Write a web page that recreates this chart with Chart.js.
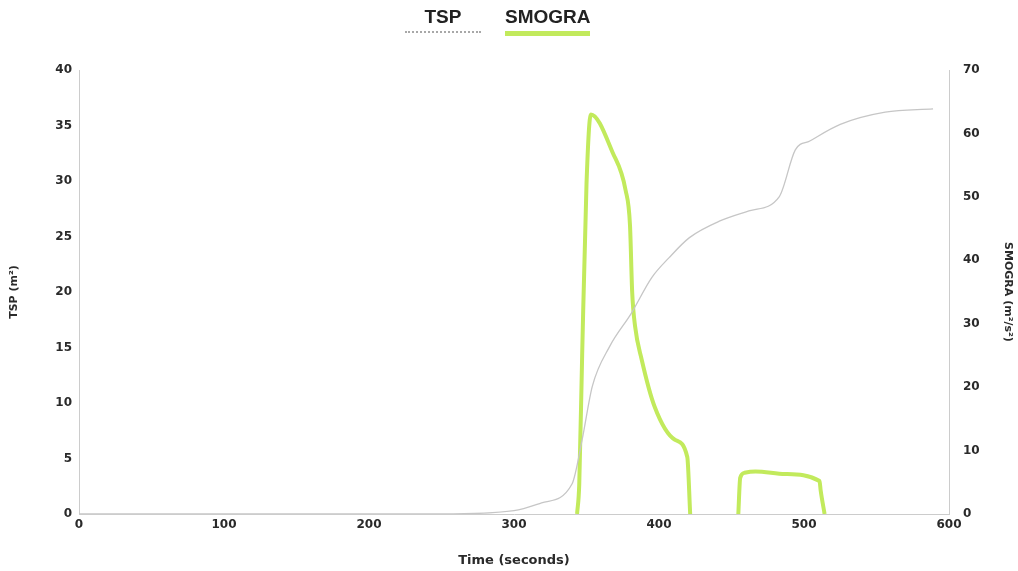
<!DOCTYPE html>
<html>
<head>
<meta charset="utf-8">
<title>TSP / SMOGRA</title>
<script src="https://cdn.jsdelivr.net/npm/chart.js@4.4.1/dist/chart.umd.min.js"></script>
<style>
    body { margin: 0; background: #fff; }
    #wrap { position: relative; width: 1018px; height: 571px; }
    #legend { position: absolute; top: 0; left: 0; width: 1018px; height: 50px; }
    .legend-item {
        position: absolute;
        top: 6px;
        text-align: center;
        font-family: "Liberation Sans Narrow", "Arial Narrow", sans-serif;
        font-stretch: condensed;
        font-weight: bold;
        font-size: 19px;
        color: #222;
    }
    .legend-line { margin: 3px auto 0 auto; }
</style>
</head>
<body>
<div id="wrap">
    <div id="legend">
        <div class="legend-item" style="left:405px; width:76px;">
            TSP
            <div class="legend-line" style="width:76px; border-top:2px dotted #a8a8a8;"></div>
        </div>
        <div class="legend-item" style="left:505px; width:85px;">
            SMOGRA
            <div class="legend-line" style="width:85px; border-top:5px solid #c2ea5c;"></div>
        </div>
    </div>
    <canvas id="myChart"></canvas>
</div>
<script>
// time in seconds
const tspTime = [0, 50, 100, 150, 200, 250, 300, 319, 340, 347, 354, 366, 381, 395, 407, 421, 442, 462, 483, 494, 504, 525, 556, 589];
const tspValues = [0, 0, 0, 0, 0, 0, 0.3, 1.0, 2.7, 6.7, 11.5, 15.1, 18.1, 21.3, 23.1, 24.9, 26.4, 27.3, 28.6, 32.8, 33.6, 35.1, 36.2, 36.5];

const smograTime = [343.5, 345, 347, 350, 353, 368, 377, 380, 381.5, 383.5, 388, 397, 411, 419.5, 421.5, 438, 454.7, 456, 459, 466.5, 487, 510.7, 511.5, 514.2];
const smograValues = [0, 4.7, 25, 52, 63, 57, 51, 45.5, 35, 29.6, 24.4, 16.9, 11.7, 9, 0, null, 0, 5.7, 6.5, 6.7, 6.3, 5.2, 3.7, 0];

const tickFont = { family: "DejaVu Sans", weight: "bold", size: 12 };
const titleFont = { family: "DejaVu Sans", weight: "bold", size: 11 };

function toPoints(xs, ys) {
    return xs.map((x, i) => ({ x: x, y: ys[i] }));
}

new Chart(document.getElementById("myChart"), {
    type: "line",
    data: {
        datasets: [{
            label: "TSP",
            data: toPoints(tspTime, tspValues),
            yAxisID: "y",
            borderColor: "#c6c6c6",
            borderWidth: 1.3,
            pointRadius: 0,
            cubicInterpolationMode: "monotone",
            fill: false
        }, {
            label: "SMOGRA",
            data: toPoints(smograTime, smograValues),
            yAxisID: "y1",
            borderColor: "#c2ea5c",
            borderWidth: 4,
            pointRadius: 0,
            cubicInterpolationMode: "monotone",
            spanGaps: false,
            fill: false
        }]
    },
    options: {
        responsive: true,
        maintainAspectRatio: false,
        animation: false,
        layout: { padding: { top: 70, left: 0, right: 0, bottom: 0 } },
        plugins: {
            legend: { display: false },
            tooltip: { enabled: false }
        },
        scales: {
            x: {
                type: "linear",
                min: 0,
                max: 600,
                grid: { display: false, drawTicks: false },
                border: { display: true, color: "#cccccc" },
                ticks: { stepSize: 100, font: tickFont, color: "#2a2a2a", padding: 4 },
                title: {
                    display: true,
                    text: "Time (seconds)",
                    font: { family: "DejaVu Sans", weight: "bold", size: 13 },
                    color: "#2a2a2a",
                    padding: { top: 0, bottom: 3 }
                },
                afterFit: function (scale) { scale.height = 57; }
            },
            y: {
                position: "left",
                min: 0,
                max: 40,
                grid: { display: false, drawTicks: false },
                border: { display: true, color: "#cccccc" },
                ticks: { stepSize: 5, font: tickFont, color: "#2a2a2a", padding: 7 },
                title: {
                    display: true,
                    text: "TSP (m²)",
                    font: titleFont,
                    color: "#2a2a2a",
                    padding: { top: 8, bottom: 0 }
                },
                afterFit: function (scale) { scale.width = 79; }
            },
            y1: {
                position: "right",
                min: 0,
                max: 70,
                grid: { display: false, drawTicks: false },
                border: { display: true, color: "#cccccc" },
                ticks: { stepSize: 10, font: tickFont, color: "#2a2a2a", padding: 14 },
                title: {
                    display: true,
                    text: "SMOGRA (m²/s²)",
                    font: titleFont,
                    color: "#2a2a2a",
                    padding: { top: 4, bottom: 0 }
                },
                afterFit: function (scale) { scale.width = 69; }
            }
        }
    }
});
</script>
</body>
</html>
